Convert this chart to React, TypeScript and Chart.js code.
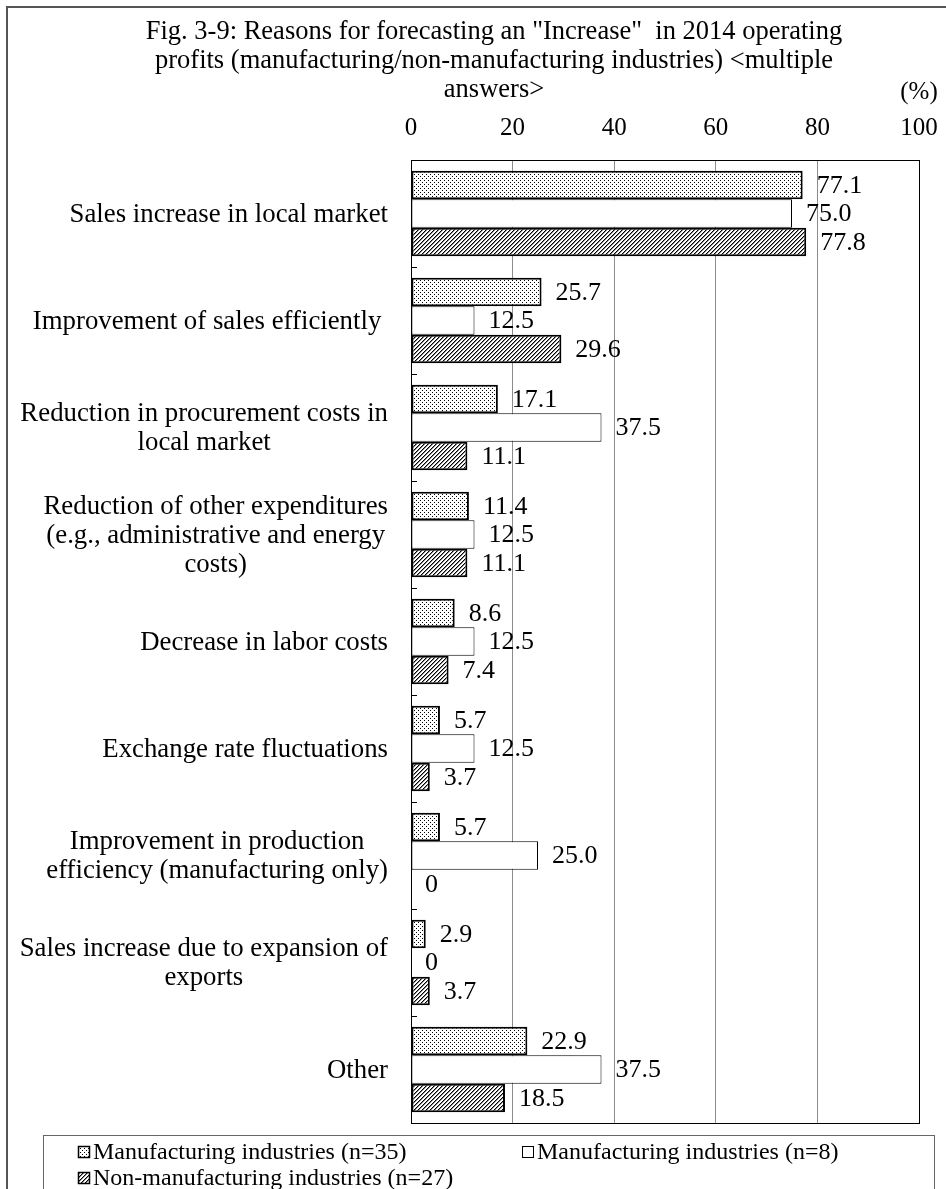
import React, { useEffect, useRef } from "react";
import { Chart, registerables } from "chart.js";

Chart.register(...registerables);

const categories: (string | string[])[] = [
  "Sales increase in local market",
  "Improvement of sales efficiently ",
  ["Reduction in procurement costs in", "local market"],
  ["Reduction of other expenditures", "(e.g., administrative and energy", "costs)"],
  "Decrease in labor costs",
  "Exchange rate fluctuations",
  ["Improvement in production", "efficiency (manufacturing only)"],
  ["Sales increase due to expansion of", "exports"],
  "Other",
];

const seriesLabels = [
  "Manufacturing industries (n=35)",
  "Manufacturing industries (n=8)",
  "Non-manufacturing industries (n=27)",
];

const mfg35 = [77.1, 25.7, 17.1, 11.4, 8.6, 5.7, 5.7, 2.9, 22.9];
const mfg8 = [75.0, 12.5, 37.5, 12.5, 12.5, 12.5, 25.0, 0, 37.5];
const nonMfg27 = [77.8, 29.6, 11.1, 11.1, 7.4, 3.7, 0, 3.7, 18.5];

const xMin = 0;
const xMax = 100;
const xStep = 20;

const titleLines = [
  'Fig. 3-9: Reasons for forecasting an "Increase"  in 2014 operating',
  "profits (manufacturing/non-manufacturing industries) <multiple",
  "answers>",
];
const unitLabel = "(%)";

const FONT = "'Liberation Serif', 'Times New Roman', serif";

function makePattern(kind: "dots" | "hatch"): CanvasPattern | string {
  const c = document.createElement("canvas");
  c.width = 4;
  c.height = 4;
  const g = c.getContext("2d");
  if (!g) return "#fff";
  g.fillStyle = "#fff";
  g.fillRect(0, 0, 4, 4);
  g.fillStyle = "#000";
  if (kind === "dots") {
    g.fillRect(0, 0, 1, 1);
    g.fillRect(2, 2, 1, 1);
  } else {
    for (let i = 0; i < 4; i++) g.fillRect(3 - i, i, 1, 1);
    g.fillStyle = "#8a8a8a";
    for (let i = 0; i < 4; i++) g.fillRect((4 - i) % 4, i, 1, 1);
  }
  return g.createPattern(c, "repeat") || "#fff";
}

const fmt = (v: number) => (v === 0 ? "0" : v.toFixed(1));

const decorPlugin = {
  id: "decor",
  beforeDraw(chart: any) {
    const { ctx, width, height } = chart;
    ctx.save();
    ctx.fillStyle = "#fff";
    ctx.fillRect(0, 0, width, height);
    // outer frame
    ctx.strokeStyle = "#555";
    ctx.lineWidth = 2;
    ctx.beginPath();
    ctx.moveTo(7, height + 2);
    ctx.lineTo(7, 7);
    ctx.lineTo(width + 2, 7);
    ctx.stroke();
    // title
    ctx.fillStyle = "#000";
    ctx.font = `26.5px ${FONT}`;
    ctx.textAlign = "center";
    ctx.textBaseline = "middle";
    titleLines.forEach((t, i) => ctx.fillText(t, 494, 32 + i * 29));
    ctx.font = `25px ${FONT}`;
    ctx.fillText(unitLabel, chart.chartArea.right, 92);
    ctx.restore();
  },
  beforeDatasetsDraw(chart: any) {
    const { ctx, chartArea } = chart;
    const y = chart.scales.y;
    ctx.save();
    ctx.strokeStyle = "#000";
    ctx.lineWidth = 1;
    ctx.strokeRect(
      Math.round(chartArea.left) + 0.5,
      Math.round(chartArea.top) + 0.5,
      Math.round(chartArea.right - chartArea.left),
      Math.round(chartArea.bottom - chartArea.top)
    );
    ctx.beginPath();
    for (let k = 1; k < categories.length; k++) {
      const yy = Math.round((y.getPixelForValue(k - 1) + y.getPixelForValue(k)) / 2) + 0.5;
      ctx.moveTo(chartArea.left, yy);
      ctx.lineTo(chartArea.left + 6, yy);
    }
    ctx.stroke();
    ctx.restore();
  },
  afterDatasetsDraw(chart: any) {
    const { ctx, chartArea } = chart;
    const y = chart.scales.y;
    ctx.save();
    ctx.fillStyle = "#000";
    // data labels
    ctx.font = `26px ${FONT}`;
    ctx.textAlign = "left";
    ctx.textBaseline = "middle";
    chart.data.datasets.forEach((ds: any, di: number) => {
      const meta = chart.getDatasetMeta(di);
      meta.data.forEach((el: any, i: number) => {
        const v = ds.data[i] as number;
        ctx.fillText(fmt(v), el.x + 14, el.y + 1);
      });
    });
    // category labels (right-aligned block, centered lines)
    ctx.font = `26.8px ${FONT}`;
    ctx.textAlign = "center";
    categories.forEach((cat, i) => {
      const lines = Array.isArray(cat) ? cat : [cat];
      const maxW = Math.max(...lines.map((l) => ctx.measureText(l).width));
      const cx = chartArea.left - 23 - maxW / 2;
      const cy = y.getPixelForValue(i) + 1;
      lines.forEach((l, j) => {
        ctx.fillText(l, cx, cy + (j - (lines.length - 1) / 2) * 29);
      });
    });
    ctx.restore();
  },
  afterDraw(chart: any) {
    const { ctx, height } = chart;
    ctx.save();
    // legend box
    ctx.strokeStyle = "#666";
    ctx.lineWidth = 1;
    ctx.strokeRect(43.5, 1135.5, 891, height);
    const pos = [
      [78, 1152],
      [522, 1152],
      [78, 1178],
    ];
    ctx.font = `24px ${FONT}`;
    ctx.textAlign = "left";
    ctx.textBaseline = "middle";
    chart.data.datasets.forEach((ds: any, i: number) => {
      const [x, yc] = pos[i];
      ctx.fillStyle = ds.backgroundColor;
      ctx.fillRect(x, yc - 6, 12, 12);
      ctx.strokeStyle = "#000";
      ctx.lineWidth = ds.borderWidth > 1 ? 1.5 : 1;
      ctx.strokeRect(x + 0.5, yc - 5.5, 11, 11);
      ctx.fillStyle = "#000";
      ctx.fillText(ds.label, x + 15, yc + 1);
    });
    ctx.restore();
  },
};

export default function App() {
  const ref = useRef<HTMLCanvasElement | null>(null);

  useEffect(() => {
    document.body.style.margin = "0";
    const canvas = ref.current;
    if (!canvas) return;
    const dots = makePattern("dots");
    const hatch = makePattern("hatch");
    const chart = new Chart(canvas, {
      type: "bar",
      data: {
        labels: categories as any,
        datasets: [
          {
            label: seriesLabels[0],
            data: mfg35,
            backgroundColor: dots as any,
            borderColor: "#000",
            borderWidth: 2,
            borderSkipped: false,
          },
          {
            label: seriesLabels[1],
            data: mfg8,
            backgroundColor: "#fff",
            borderColor: "#000",
            borderWidth: 1,
            borderSkipped: false,
          },
          {
            label: seriesLabels[2],
            data: nonMfg27,
            backgroundColor: hatch as any,
            borderColor: "#000",
            borderWidth: 2,
            borderSkipped: false,
          },
        ],
      },
      options: {
        indexAxis: "y",
        responsive: false,
        devicePixelRatio: 1,
        animation: false,
        datasets: {
          bar: { categoryPercentage: 0.8, barPercentage: 1.0 },
        },
        layout: { padding: { top: 0, left: 0, right: 27, bottom: 66 } },
        plugins: {
          legend: { display: false },
          title: { display: false },
          tooltip: { enabled: false },
        },
        scales: {
          x: {
            type: "linear",
            position: "top",
            min: xMin,
            max: xMax,
            ticks: {
              stepSize: xStep,
              padding: 17,
              color: "#000",
              font: { family: FONT, size: 25 },
            },
            grid: { color: "#8c8c8c", drawTicks: false, lineWidth: 1 },
            border: { display: true, color: "#000", width: 1 },
            afterFit: (s: any) => {
              s.height = 160;
              s.paddingLeft = 0;
              s.paddingRight = 0;
            },
          },
          y: {
            type: "category",
            position: "left",
            ticks: { display: false },
            grid: { display: false },
            border: { display: true, color: "#000", width: 1 },
            afterFit: (s: any) => {
              s.width = 411;
            },
          },
        },
      },
      plugins: [decorPlugin],
    });
    return () => chart.destroy();
  }, []);

  return (
    <div style={{ width: 946, height: 1189 }}>
      <canvas ref={ref} width={946} height={1189} style={{ display: "block" }} />
    </div>
  );
}
